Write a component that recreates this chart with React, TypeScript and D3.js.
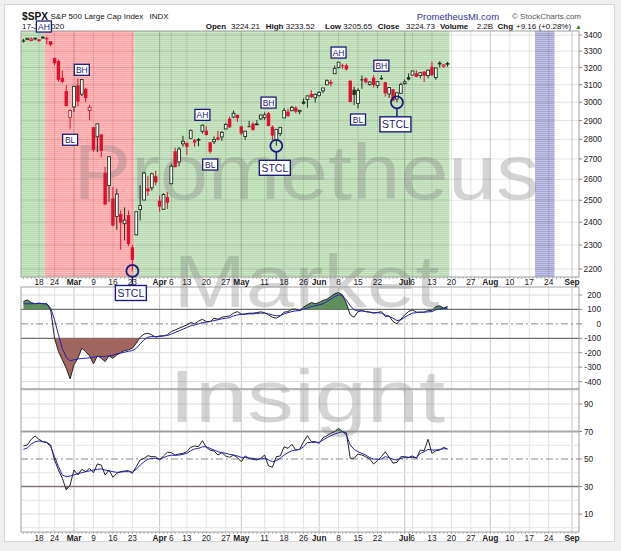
import React from "react";
import * as d3 from "d3";

// ---------- DATA ----------
const dates = [
  "2020-02-11","2020-02-12","2020-02-13","2020-02-14","2020-02-18","2020-02-19","2020-02-20","2020-02-21","2020-02-24","2020-02-25","2020-02-26","2020-02-27","2020-02-28",
  "2020-03-02","2020-03-03","2020-03-04","2020-03-05","2020-03-06","2020-03-09","2020-03-10","2020-03-11","2020-03-12","2020-03-13","2020-03-16","2020-03-17","2020-03-18","2020-03-19","2020-03-20","2020-03-23","2020-03-24","2020-03-25","2020-03-26","2020-03-27","2020-03-30","2020-03-31",
  "2020-04-01","2020-04-02","2020-04-03","2020-04-06","2020-04-07","2020-04-08","2020-04-09","2020-04-13","2020-04-14","2020-04-15","2020-04-16","2020-04-17","2020-04-20","2020-04-21","2020-04-22","2020-04-23","2020-04-24","2020-04-27","2020-04-28","2020-04-29","2020-04-30",
  "2020-05-01","2020-05-04","2020-05-05","2020-05-06","2020-05-07","2020-05-08","2020-05-11","2020-05-12","2020-05-13","2020-05-14","2020-05-15","2020-05-18","2020-05-19","2020-05-20","2020-05-21","2020-05-22","2020-05-26","2020-05-27","2020-05-28","2020-05-29",
  "2020-06-01","2020-06-02","2020-06-03","2020-06-04","2020-06-05","2020-06-08","2020-06-09","2020-06-10","2020-06-11","2020-06-12","2020-06-15","2020-06-16","2020-06-17","2020-06-18","2020-06-19","2020-06-22","2020-06-23","2020-06-24","2020-06-25","2020-06-26","2020-06-29","2020-06-30",
  "2020-07-01","2020-07-02","2020-07-06","2020-07-07","2020-07-08","2020-07-09","2020-07-10","2020-07-13","2020-07-14","2020-07-15","2020-07-16","2020-07-17",
];
const prevClose0 = 3352.09;
const opens = [
  3365.87,3370.50,3365.90,3378.08,3369.04,3380.39,3380.45,3360.50,3257.61,3238.94,3139.90,3062.54,2916.90,
  2974.28,3096.46,3045.75,3075.70,2954.20,2863.89,2813.48,2825.60,2630.86,2569.99,2508.59,2425.66,2436.50,2393.48,2431.94,2290.71,2344.44,2457.77,2501.29,2555.87,2558.98,2614.69,
  2498.08,2458.54,2514.92,2578.28,2738.65,2685.00,2776.99,2782.46,2805.10,2795.64,2799.34,2842.43,2845.62,2784.81,2787.89,2810.42,2812.64,2854.65,2909.96,2918.46,2930.91,
  2869.09,2815.01,2868.88,2883.14,2878.26,2908.83,2915.46,2939.50,2865.86,2794.54,2829.95,2913.86,2948.59,2953.63,2969.95,2948.05,3004.08,3015.65,3046.61,3025.17,
  3038.78,3064.78,3098.90,3111.56,3163.84,3199.92,3213.32,3213.42,3123.53,3071.04,2993.76,3131.00,3136.13,3101.64,3140.29,3094.42,3138.70,3114.40,3046.60,3073.20,3018.59,3050.20,
  3105.92,3143.64,3155.29,3166.44,3153.07,3176.17,3152.47,3205.08,3141.11,3225.98,3208.36,3224.21,
];
const highs = [
  3375.63,3381.47,3385.09,3380.69,3375.01,3393.52,3389.15,3360.76,3259.81,3246.99,3182.51,3097.07,2959.72,
  3090.96,3136.72,3130.97,3083.04,2985.93,2863.89,2882.59,2825.60,2660.95,2711.33,2562.98,2553.93,2453.57,2466.97,2453.01,2300.73,2449.71,2571.42,2637.01,2615.91,2631.80,2641.39,
  2522.75,2533.22,2538.18,2676.85,2756.89,2760.75,2818.57,2782.46,2851.85,2801.88,2806.51,2879.22,2868.98,2785.54,2815.10,2844.90,2842.71,2887.72,2921.15,2954.86,2930.91,
  2869.09,2844.24,2898.23,2891.11,2901.92,2932.16,2944.25,2945.82,2874.14,2852.80,2865.01,2968.09,2964.21,2980.29,2978.50,2956.76,3021.72,3036.25,3068.67,3049.17,
  3062.18,3081.07,3130.94,3128.91,3211.72,3233.13,3222.71,3223.27,3123.53,3088.42,3079.76,3153.45,3141.16,3120.00,3155.53,3120.92,3154.90,3115.01,3086.25,3073.73,3053.89,3111.51,
  3128.44,3165.81,3182.59,3184.15,3171.80,3179.78,3186.82,3235.32,3200.95,3238.28,3220.39,3233.52,
];
const lows = [
  3352.72,3369.72,3360.52,3366.15,3355.61,3378.83,3341.02,3328.45,3214.65,3118.77,3108.99,2977.39,2855.84,
  2945.19,2976.63,3034.38,2999.83,2901.54,2734.43,2734.00,2707.22,2478.86,2492.37,2380.94,2367.04,2280.52,2319.78,2295.56,2191.86,2344.44,2407.53,2500.72,2520.02,2545.28,2571.15,
  2447.49,2455.79,2459.96,2574.57,2657.67,2663.30,2762.36,2721.17,2805.10,2761.54,2764.32,2830.88,2820.43,2727.10,2775.95,2794.26,2791.76,2852.89,2860.71,2912.16,2892.47,
  2821.61,2797.85,2863.55,2847.65,2876.48,2902.88,2903.44,2869.59,2793.15,2766.64,2816.78,2913.86,2922.35,2953.63,2938.57,2933.59,2988.17,2969.75,3023.40,2998.61,
  3031.54,3051.64,3098.90,3090.41,3163.84,3196.00,3193.11,3181.49,2999.49,2984.47,2965.66,3076.06,3108.03,3093.51,3083.11,3079.39,3127.12,3032.13,3024.01,3004.63,2999.74,3047.83,
  3101.17,3124.52,3155.29,3142.93,3136.53,3115.70,3136.22,3149.43,3127.66,3200.76,3198.59,3205.65,
];
const closes = [
  3357.75,3379.45,3373.94,3380.16,3370.29,3386.15,3373.23,3337.75,3225.89,3128.21,3116.39,2978.76,2954.22,
  3090.23,3003.37,3130.12,3023.94,2972.37,2746.56,2882.23,2741.38,2480.64,2711.02,2386.13,2529.19,2398.10,2409.39,2304.92,2237.40,2447.33,2475.56,2630.07,2541.47,2626.65,2584.59,
  2470.50,2526.90,2488.65,2663.68,2659.41,2749.98,2789.82,2761.63,2846.06,2783.36,2799.55,2874.56,2823.16,2736.56,2799.31,2797.80,2836.74,2878.48,2863.39,2939.51,2912.43,
  2830.71,2842.74,2868.44,2848.42,2881.19,2929.80,2930.32,2870.12,2820.00,2852.50,2863.70,2953.91,2922.94,2971.61,2948.51,2955.45,2991.77,3036.13,3029.73,3044.31,
  3055.73,3080.82,3122.87,3112.35,3193.93,3232.39,3207.18,3190.14,3002.10,3041.31,3066.59,3124.74,3113.49,3115.34,3097.74,3117.86,3131.29,3050.33,3083.76,3009.05,3053.24,3100.29,
  3115.86,3130.01,3179.72,3145.32,3169.94,3152.05,3185.04,3155.22,3197.52,3226.56,3215.57,3224.73,
];
const cci = [
  155,166,148,139,143,139,139,97,
  -99,-192,-249,-307,-381,-284,-238,-169,-192,-222,
  -277,-222,-238,-261,-222,-238,-215,-199,-185,-180,
  -169,-134,-92,-71,-65,-76,-92,-83,-83,-76,
  -53,-42,-30,-19,-7,9,0,19,32,16,
  16,39,32,46,51,55,74,85,67,69,
  74,74,78,83,78,62,46,39,55,81,
  85,102,102,92,116,132,148,139,148,162,
  171,189,208,217,201,143,62,46,85,92,
  85,81,74,78,85,51,55,16,0,32,
  62,85,97,81,81,81,92,92,120,125,109,120,
];
const cciMA = [
  139,139,139,141,143,141,139,109,
  28,-76,-169,-231,-256,-249,-243,-240,-238,-235,
  -231,-226,-226,-226,-222,-217,-208,-203,-196,-190,
  -185,-169,-139,-111,-92,-88,-88,-88,-83,-81,
  -71,-60,-48,-37,-25,-14,-7,0,9,12,
  16,23,28,35,39,44,55,62,65,67,
  69,69,72,74,74,69,62,55,58,69,
  78,85,90,92,102,109,120,125,132,139,
  155,171,189,201,194,166,125,97,90,90,
  85,81,78,78,74,62,51,39,23,28,
  46,62,74,78,81,81,83,85,97,104,106,109,
];
const rsi = [
  59.5,60.2,64.3,66.7,64.3,62.6,62.1,60.2,
  49.3,42,36,27.5,31.1,42,38.4,42.5,40.8,43.2,
  40,46.4,45.6,38.4,42,36.7,39.6,40.8,41.3,41.5,
  39.6,44.4,49.3,50.5,52.4,51.7,51.7,49.3,52.2,54.9,
  54.6,52.9,53.6,54.1,55.3,58.5,59.5,58.9,63.3,58.5,
  56.5,55.8,52.9,54.6,52.2,51.2,52.9,51,48,52.2,
  50.5,49.8,49.3,50.5,52.9,44.9,44,51.7,52.2,58.9,
  57.8,60.7,56.5,57,62.6,67,62.6,62.6,61.4,65.5,
  66.9,68.7,69.9,72.3,69.9,69.1,50.5,50.5,53.6,52.9,
  51.7,50,46.4,48.8,51.7,55.3,51.2,46.9,47.6,51.7,
  51.7,51.2,52.2,50.5,56.5,56,64.3,54.1,56,56.5,58.5,57.3,
];
const rsiMA = [
  57,58,60.9,62.6,63.1,62.6,61.9,58.9,
  51.7,44.4,38.4,37.1,37.6,38.4,39.6,40,40.8,41.3,
  42,42.5,42.7,42,41.3,40.8,40.3,40.5,40.8,40.8,
  40.5,42.5,45.6,48,49.8,50.5,50.5,50,51,52.2,
  52.7,52.7,52.9,53.4,54.1,56,57.3,57.7,58.9,58.9,
  57.7,56.5,55.3,54.6,54.1,53.4,52.9,52.2,51.2,51.2,
  50.7,50.5,50,50,50.5,49.3,48,48.8,50.5,52.9,
  54.6,56,56.5,57,58.9,61.9,62.1,62.1,62.1,63.8,
  65.5,66.9,68.2,69.1,69.9,67.5,60.2,57,55.3,54.1,
  52.9,51,50,49.8,50,51.7,51,49.8,49.3,50.5,
  51,51,51.2,51,54.1,55.3,57,56.5,56.5,57,57.5,57.3,
];

const holidays = ["2020-02-17","2020-04-10","2020-05-25","2020-07-03","2020-09-07"];

const xTickDates = ["2020-02-18","2020-02-24","2020-03-02","2020-03-09","2020-03-16","2020-03-23","2020-04-01","2020-04-06","2020-04-13","2020-04-20","2020-04-27","2020-05-01","2020-05-11","2020-05-18","2020-05-26","2020-06-01","2020-06-08","2020-06-15","2020-06-22","2020-07-01","2020-07-06","2020-07-13","2020-07-20","2020-07-27","2020-08-03","2020-08-10","2020-08-17","2020-08-24","2020-09-01"];
const xTickLabels = ["18","24","Mar","9","16","23","Apr","6","13","20","27","May","11","18","26","Jun","8","15","22","Jul","6","13","20","27","Aug","10","17","24","Sep"];

const priceTicks = [3400,3300,3200,3100,3000,2900,2800,2700,2600,2500,2400,2300,2200];
const cciTicks = [200,100,0,-100,-200,-300,-400];
const rsiTicks = [90,70,50,30,10];
const rsiMinor = [100,80,60,40,20,0];

const regionFrom = ["2020-02-10","2020-02-20","2020-03-24","2020-08-19"];
const regionTo = ["2020-02-19","2020-03-23","2020-07-17","2020-08-25"];
const regionKind = ["green","red","green","purple"];

const annLabels = ["AH","BH","BL","AH","BL","BH","STCL","AH","BH","BL","STCL","STCL"];
const annDates = ["2020-02-19","2020-03-04","2020-02-28","2020-04-17","2020-04-21","2020-05-12","2020-05-14","2020-06-08","2020-06-23","2020-06-15","2020-06-29","2020-03-23"];

// ---------- LAYOUT ----------
const L = 21, R = 579;
const PT = 31, PB = 277;
const C1T = 287, C1B = 389;
const C2T = 389, C2B = 532;
const FONT = "'Liberation Sans', Arial, Helvetica, sans-serif";
const NAVY = "#1c1c7a";
const RED = "#e0102f";
const DARK = "#1b331b";

function buildCalendar(): string[] {
  const out: string[] = [];
  const fmt = d3.utcFormat("%Y-%m-%d");
  const end = Date.UTC(2020, 8, 4);
  for (let t = Date.UTC(2020, 1, 10); t <= end; t += 86400000) {
    const d = new Date(t);
    const wd = d.getUTCDay();
    const s = fmt(d);
    if (wd === 0 || wd === 6 || holidays.includes(s)) continue;
    out.push(s);
  }
  return out;
}

export default function App() {
  const cal = buildCalendar();
  const idx: Record<string, number> = {};
  cal.forEach((d, i) => (idx[d] = i));

  const x = d3.scaleLinear().domain([idx["2020-02-18"], idx["2020-09-01"]]).range([39, 572]);
  const yP = d3.scaleLog().domain([3400, 2200]).range([35, 269]);
  const yC = d3.scaleLinear().domain([200, -400]).range([295, 381.6]);
  const yR = d3.scaleLinear().domain([90, 10]).range([404, 514]);

  const xi = (k: number) => x(idx[dates[k]]);
  const lineC = d3.line<number>().x((_, k) => xi(k)).y((v) => yC(v));
  const lineR = d3.line<number>().x((_, k) => xi(k)).y((v) => yR(v));
  const areaC = (base: number) => d3.area<number>().x((_, k) => xi(k)).y0(yC(base)).y1((v) => yC(v));
  const areaR = (base: number) => d3.area<number>().x((_, k) => xi(k)).y0(yR(base)).y1((v) => yR(v));

  const regionFill: Record<string, string> = { green: "url(#pGreen)", red: "url(#pRed)", purple: "url(#pPurple)" };
  const isMonth = (lab: string) => /[A-Za-z]/.test(lab);

  const vGrid = (top: number, bottom: number, keyp: string) =>
    xTickDates.map((d, k) => (
      <line key={keyp + k} x1={x(idx[d])} x2={x(idx[d])} y1={top} y2={bottom}
        stroke={isMonth(xTickLabels[k]) ? "rgba(0,0,0,0.22)" : "rgba(0,0,0,0.11)"} strokeWidth={1} />
    ));

  const dayTicks = (yy: number, keyp: string) =>
    cal.map((d, k) => {
      const xx = x(k);
      if (xx < L || xx > R) return null;
      return <line key={keyp + k} x1={xx} x2={xx} y1={yy} y2={yy + 2} stroke="#999" strokeWidth={0.7} />;
    });

  const xLabels = (yy: number, keyp: string) =>
    xTickDates.map((d, k) => (
      <text key={keyp + k} x={x(idx[d])} y={yy} textAnchor="middle" fontSize={8.3}
        fontWeight={isMonth(xTickLabels[k]) ? "bold" : "normal"} fill="#222">{xTickLabels[k]}</text>
    ));

  const hdr = (xx: number, s: string, bold = false, key = "") => (
    <text key={key || s} x={xx} y={29} fontSize={8} fontWeight={bold ? "bold" : "normal"} fill="#111">{s}</text>
  );

  return (
    <svg width={621} height={551} style={{ position: "absolute", left: 0, top: 0, display: "block" }} fontFamily={FONT}>
      <defs>
        <pattern id="pGreen" width="4" height="2" patternUnits="userSpaceOnUse">
          <rect width="4" height="2" fill="#cde7c8" />
          <rect y="1" width="4" height="1" fill="#b6d9b0" />
        </pattern>
        <pattern id="pRed" width="4" height="2" patternUnits="userSpaceOnUse">
          <rect width="4" height="2" fill="#ffbdbd" />
          <rect y="1" width="4" height="1" fill="#ffa4a4" />
        </pattern>
        <pattern id="pPurple" width="4" height="2" patternUnits="userSpaceOnUse">
          <rect width="4" height="2" fill="#c2c2e6" />
          <rect y="1" width="4" height="1" fill="#a8a8d6" />
        </pattern>
        <clipPath id="clipP"><rect x={L} y={PT} width={R - L} height={PB - PT} /></clipPath>
        <clipPath id="clipC1"><rect x={L} y={C1T} width={R - L} height={C1B - C1T} /></clipPath>
        <clipPath id="clipC2"><rect x={L} y={C2T} width={R - L} height={C2B - C2T} /></clipPath>
        <clipPath id="cAbove100"><rect x={L} y={C1T} width={R - L} height={yC(100) - C1T} /></clipPath>
        <clipPath id="cBelowM100"><rect x={L} y={yC(-100)} width={R - L} height={C1B - yC(-100)} /></clipPath>
        <clipPath id="cAbove70"><rect x={L} y={C2T} width={R - L} height={yR(70) - C2T} /></clipPath>
        <clipPath id="cBelow30"><rect x={L} y={yR(30)} width={R - L} height={C2B - yR(30)} /></clipPath>
      </defs>

      {/* frame */}
      <rect x={0} y={0} width={621} height={551} fill="#efefef" />
      <rect x={4.5} y={4.5} width={610} height={537} fill="#ffffff" stroke="#d6d6d6" />

      {/* header */}
      <text x={22} y={19.5} fontSize={10.4} fontWeight="bold" fill="#111" textLength={26} lengthAdjust="spacingAndGlyphs">$SPX</text>
      <text x={50.5} y={19} fontSize={8} fill="#111">S&amp;P 500 Large Cap Index</text>
      <text x={149.5} y={19} fontSize={8} fill="#111">INDX</text>
      <text x={22} y={29} fontSize={8} fill="#111">17-Jul-2020</text>
      {hdr(205.7, "Open", true)}
      {hdr(231, "3224.21")}
      {hdr(265.7, "High", true)}
      {hdr(285.7, "3233.52")}
      {hdr(325, "Low", true)}
      {hdr(343.3, "3205.65")}
      {hdr(377.7, "Close", true)}
      {hdr(406, "3224.73")}
      {hdr(440, "Volume", true)}
      {hdr(476.7, "2.2B")}
      {hdr(497.5, "Chg", true)}
      {hdr(516, "+9.16 (+0.28%)")}
      <text x={575} y={29} fontSize={7} fill="#2a8a2a">▲</text>
      <text x={416.7} y={19.5} fontSize={9.5} fill="#333399">PrometheusMI.com</text>
      <text x={512} y={19} fontSize={8} fill="#555">© StockCharts.com</text>

      {/* ===== price panel ===== */}
      <rect x={L} y={PT} width={R - L} height={PB - PT} fill="#fff" />
      <g clipPath="url(#clipP)">
        {regionKind.map((kd, k) => {
          const a = x(idx[regionFrom[k]] - 0.5);
          const b = x(idx[regionTo[k]] + 0.5);
          return <rect key={"rg" + k} x={a} y={PT} width={b - a} height={PB - PT} fill={regionFill[kd]} />;
        })}
        {priceTicks.map((v) => (
          <line key={"pg" + v} x1={L} x2={R} y1={yP(v)} y2={yP(v)} stroke="rgba(0,0,0,0.10)" />
        ))}
        {vGrid(PT, PB, "pv")}
      </g>

      {/* indicator panel 1 background + grid */}
      <rect x={L} y={C1T} width={R - L} height={C1B - C1T} fill="#fff" />
      {vGrid(C1T, C1B, "c1v")}
      {cciTicks.map((v) => {
        const yy = yC(v);
        if (v === 0) return <line key={"cg" + v} x1={L} x2={R} y1={yy} y2={yy} stroke="#888" strokeDasharray="7,3,2,3" />;
        if (v === 100 || v === -100) return <line key={"cg" + v} x1={L} x2={R} y1={yy} y2={yy} stroke="#6f6f6f" strokeWidth={1.2} />;
        return <line key={"cg" + v} x1={L} x2={R} y1={yy} y2={yy} stroke="#dcdcdc" />;
      })}

      {/* indicator panel 2 background + grid */}
      <rect x={L} y={C2T} width={R - L} height={C2B - C2T} fill="#fff" />
      {vGrid(C2T, C2B, "c2v")}
      {rsiMinor.map((v) => (
        <line key={"rm" + v} x1={L} x2={R} y1={yR(v)} y2={yR(v)} stroke="#e6e6e6" />
      ))}
      {rsiTicks.map((v) => {
        const yy = yR(v);
        if (v === 50) return <line key={"rg" + v} x1={L} x2={R} y1={yy} y2={yy} stroke="#888" strokeDasharray="7,3,2,3" />;
        if (v === 70) return <line key={"rg" + v} x1={L} x2={R} y1={yy} y2={yy} stroke="#a8a8a8" strokeWidth={2} />;
        if (v === 30) return <line key={"rg" + v} x1={L} x2={R} y1={yy} y2={yy} stroke="#7a7a7a" strokeWidth={1.3} />;
        return <line key={"rg" + v} x1={L} x2={R} y1={yy} y2={yy} stroke="#dcdcdc" />;
      })}

      {/* watermark */}
      <g fill="#808080" fillOpacity={0.34} fontFamily={FONT}>
        <text x={306.5} y={199} fontSize={78} textAnchor="middle" textLength={466} lengthAdjust="spacingAndGlyphs">Prometheus</text>
        <text x={306.5} y={307} fontSize={74} textAnchor="middle" textLength={266} lengthAdjust="spacingAndGlyphs">Market</text>
        <text x={307} y={422} fontSize={75} textAnchor="middle" textLength={276} lengthAdjust="spacingAndGlyphs">Insight</text>
      </g>

      {/* candles */}
      <g clipPath="url(#clipP)">
        {dates.map((d, k) => {
          const o = opens[k], h = highs[k], l = lows[k], c = closes[k];
          const prev = k > 0 ? closes[k - 1] : prevClose0;
          const col = c >= prev ? DARK : RED;
          const hollow = c > o;
          const cx = xi(k);
          const yt = yP(Math.max(o, c));
          const yb = yP(Math.min(o, c));
          const bh = Math.max(yb - yt, 0.8);
          return (
            <g key={"cd" + k}>
              <line x1={cx} x2={cx} y1={yP(h)} y2={yP(l)} stroke={col} strokeWidth={1} />
              {hollow ? (
                <rect x={cx - 1.4} y={yt} width={2.8} height={bh} fill="#fff" stroke={col} strokeWidth={0.9} />
              ) : (
                <rect x={cx - 1.7} y={yt} width={3.4} height={bh} fill={col} />
              )}
            </g>
          );
        })}
      </g>

      {/* CCI */}
      <g clipPath="url(#clipC1)">
        <path d={areaC(100)(cci) || ""} fill="#5f8f5c" clipPath="url(#cAbove100)" />
        <path d={areaC(-100)(cci) || ""} fill="#a1665f" clipPath="url(#cBelowM100)" />
        <path d={lineC(cci) || ""} fill="none" stroke="#222" strokeWidth={1} />
        <path d={lineC(cciMA) || ""} fill="none" stroke="#2323b0" strokeWidth={1} />
      </g>

      {/* RSI */}
      <g clipPath="url(#clipC2)">
        <path d={areaR(70)(rsi) || ""} fill="#5f8f5c" clipPath="url(#cAbove70)" />
        <path d={areaR(30)(rsi) || ""} fill="#a1665f" clipPath="url(#cBelow30)" />
        <path d={lineR(rsi) || ""} fill="none" stroke="#222" strokeWidth={1} />
        <path d={lineR(rsiMA) || ""} fill="none" stroke="#2323b0" strokeWidth={1} />
      </g>

      {/* panel borders */}
      <rect x={L} y={PT} width={R - L} height={PB - PT} fill="none" stroke="#a0a0a0" />
      <rect x={L} y={C1T} width={R - L} height={C1B - C1T} fill="none" stroke="#a0a0a0" />
      <rect x={L} y={C2T} width={R - L} height={C2B - C2T} fill="none" stroke="#a0a0a0" />
      {dayTicks(PB, "dt1")}
      {dayTicks(C2B, "dt2")}

      {/* right axes */}
      {priceTicks.map((v) => (
        <g key={"pt" + v}>
          <line x1={R} x2={R + 3} y1={yP(v)} y2={yP(v)} stroke="#888" />
          <text x={602} y={yP(v) + 3} textAnchor="end" fontSize={8.3} fill="#222">{v}</text>
        </g>
      ))}
      {cciTicks.map((v) => (
        <g key={"ct" + v}>
          <line x1={R} x2={R + 3} y1={yC(v)} y2={yC(v)} stroke="#888" />
          <text x={601} y={yC(v) + 3} textAnchor="end" fontSize={8.3} fill="#222">{v}</text>
        </g>
      ))}
      {rsiTicks.map((v) => (
        <g key={"rt" + v}>
          <line x1={R} x2={R + 3} y1={yR(v)} y2={yR(v)} stroke="#888" />
          <text x={584} y={yR(v) + 3} textAnchor="start" fontSize={8.3} fill="#222">{v}</text>
        </g>
      ))}

      {/* x labels */}
      {xLabels(284.8, "xl1")}
      {xLabels(540.5, "xl2")}

      {/* annotations */}
      {annLabels.map((lab, k) => {
        const di = dates.indexOf(annDates[k]);
        const cx = x(idx[annDates[k]]);
        if (lab === "STCL") {
          const cy = yP(lows[di]);
          const by = cy + 22;
          const bx = cx - 1.5;
          return (
            <g key={"an" + k}>
              <line x1={cx} x2={cx} y1={cy + 6} y2={by - 7.5} stroke={NAVY} strokeWidth={1.5} />
              <circle cx={cx} cy={cy} r={6} fill="none" stroke={NAVY} strokeWidth={1.8} />
              <rect x={bx - 15.5} y={by - 7.5} width={31} height={15} fill="#fff" stroke={NAVY} strokeWidth={1.4} />
              <text x={bx} y={by + 3.8} textAnchor="middle" fontSize={10.5} fill={NAVY}>STCL</text>
            </g>
          );
        }
        const above = lab !== "BL";
        const by = above ? yP(highs[di]) - 9.5 : yP(lows[di]) + 11;
        const bx = lab === "AH" && k === 0 ? cx + 1 : cx;
        return (
          <g key={"an" + k}>
            <rect x={bx - 7.5} y={by - 5.5} width={15} height={11} fill="#fff" stroke={NAVY} strokeWidth={1.3} />
            <text x={bx} y={by + 3.1} textAnchor="middle" fontSize={8.5} fill={NAVY}>{lab}</text>
          </g>
        );
      })}
    </svg>
  );
}
